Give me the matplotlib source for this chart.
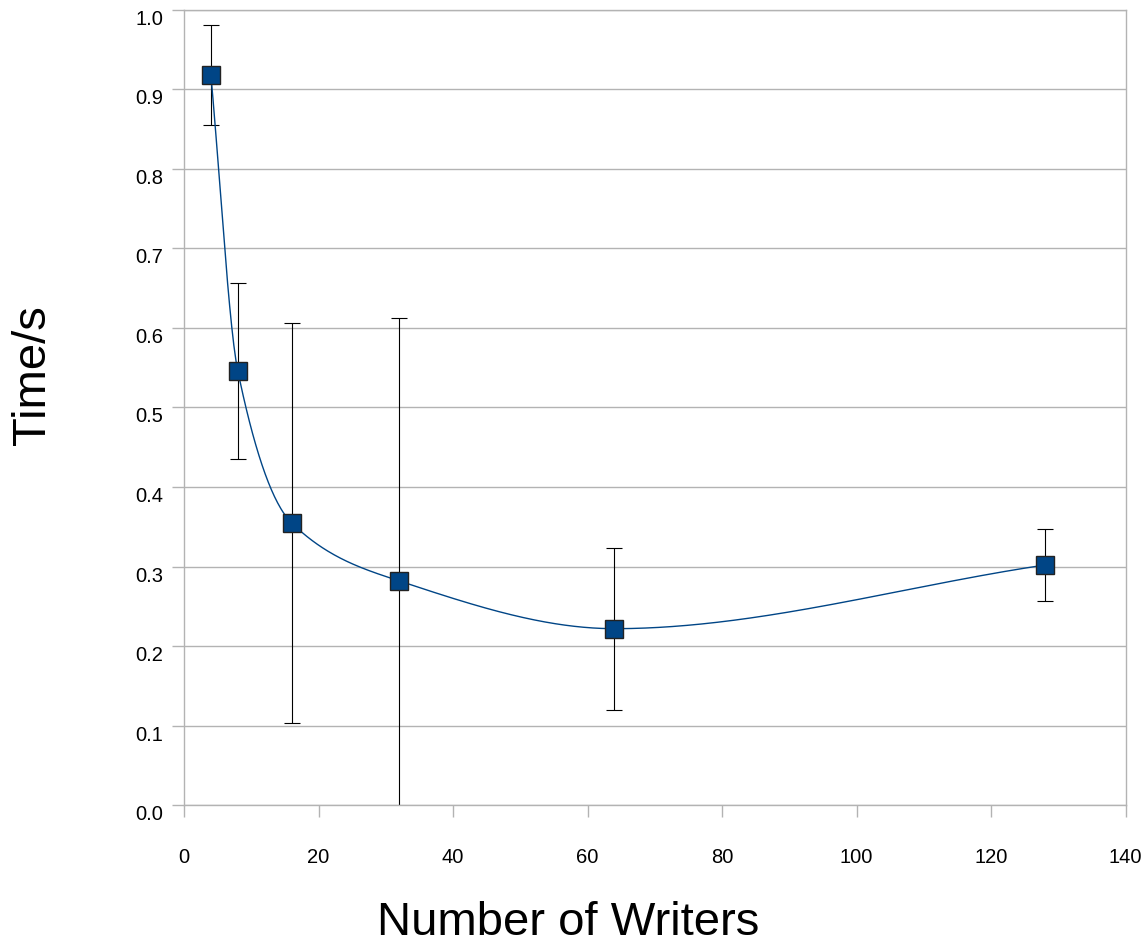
import matplotlib
matplotlib.use("Agg")
import matplotlib.pyplot as plt
import matplotlib.transforms as mtransforms
import numpy as np

# data
writers = [4, 8, 16, 32, 64, 128]
time_mean = [0.918, 0.546, 0.355, 0.282, 0.222, 0.302]
time_err = [0.063, 0.111, 0.251, 0.330, 0.102, 0.045]

x_ticks = [0, 20, 40, 60, 80, 100, 120, 140]
y_ticks = [0.0, 0.1, 0.2, 0.3, 0.4, 0.5, 0.6, 0.7, 0.8, 0.9, 1.0]

blue = "#004586"
grid_gray = "#b3b3b3"

plt.rcParams["font.family"] = ["Liberation Sans", "DejaVu Sans"]


def smooth_curve(x, y, n=800):
    # monotone cubic hermite through the points (flat at local extrema)
    x = np.asarray(x, dtype=float)
    y = np.asarray(y, dtype=float)
    h = np.diff(x)
    delta = np.diff(y) / h
    d = np.zeros_like(y)
    d[0] = delta[0]
    d[-1] = delta[-1]
    for k in range(1, len(x) - 1):
        if delta[k - 1] * delta[k] > 0:
            w1 = 2 * h[k] + h[k - 1]
            w2 = h[k] + 2 * h[k - 1]
            d[k] = (w1 + w2) / (w1 / delta[k - 1] + w2 / delta[k])
    xx = np.linspace(x[0], x[-1], n)
    yy = np.empty_like(xx)
    for j, v in enumerate(xx):
        i = min(max(np.searchsorted(x, v, side="right") - 1, 0), len(x) - 2)
        t = (v - x[i]) / h[i]
        h00 = 2 * t**3 - 3 * t**2 + 1
        h10 = t**3 - 2 * t**2 + t
        h01 = -2 * t**3 + 3 * t**2
        h11 = t**3 - t**2
        yy[j] = h00 * y[i] + h10 * h[i] * d[i] + h01 * y[i + 1] + h11 * h[i] * d[i + 1]
    return xx, yy


fig = plt.figure(figsize=(11.47, 9.4), dpi=100)
ax = fig.add_axes([0.1604, 0.1433, 0.8210, 0.8464])

cx, cy = smooth_curve(writers, time_mean)
ax.plot(cx, cy, color=blue, lw=1.0, zorder=3)

ax.errorbar(writers, time_mean, yerr=time_err, fmt="none", ecolor="black",
            elinewidth=0.8, capsize=5.5, capthick=0.8, zorder=2)
ax.plot(writers, time_mean, ls="none", marker="s", markersize=13.5,
        markerfacecolor=blue, markeredgecolor="#222222", markeredgewidth=1.0,
        zorder=4)

ax.set_xlim(0, 140)
ax.set_ylim(0, 1.0)
ax.set_xticks(x_ticks)
ax.set_yticks(y_ticks)
ax.set_yticklabels([f"{y:.1f}" for y in y_ticks])
ax.yaxis.grid(True, color=grid_gray, lw=1.0)
ax.set_axisbelow(True)
for s in ax.spines.values():
    s.set_color(grid_gray)
    s.set_linewidth(1.0)
ax.tick_params(axis="both", direction="out", length=8.5, width=1.0,
               color=grid_gray, labelsize=14.5)
ax.tick_params(axis="y", pad=6.5)
ax.tick_params(axis="x", pad=22)

# y labels sit a little below their gridlines
shift = mtransforms.ScaledTranslation(0, -7.5 / 100, fig.dpi_scale_trans)
for lbl in ax.get_yticklabels():
    lbl.set_transform(lbl.get_transform() + shift)

fig.text(377 / 1147, 1 - 935 / 940, "Number of Writers", fontsize=34,
         ha="left", va="baseline")
fig.text(33 / 1147, 1 - 375 / 940, "Time/s", fontsize=34, rotation=90,
         ha="center", va="center")

fig.savefig("out.png", dpi=100)
